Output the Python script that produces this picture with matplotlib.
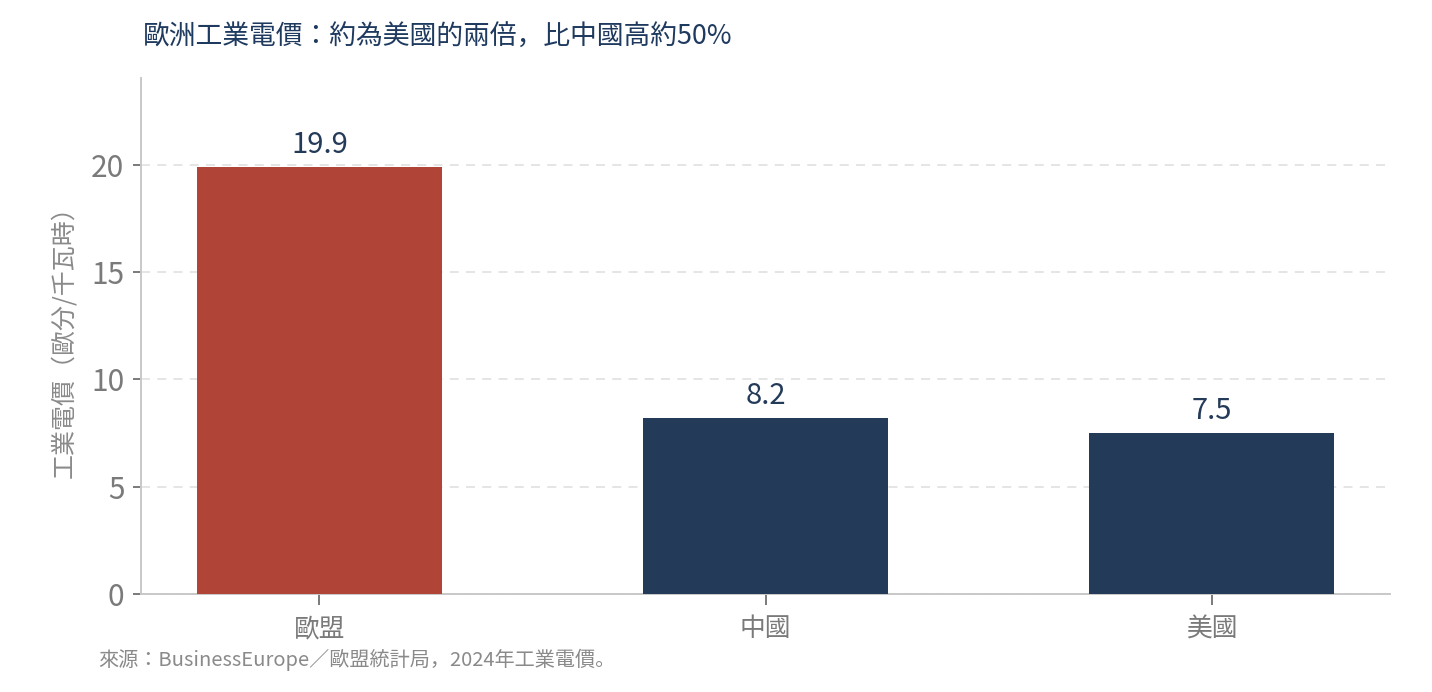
import matplotlib
matplotlib.use("Agg")
import matplotlib.pyplot as plt

plt.rcParams['font.family'] = ['Noto Sans CJK JP', 'DejaVu Sans']

# data
regions = ["歐盟", "中國", "美國"]
prices = [19.9, 8.2, 7.5]
bar_colors = ["#B04537", "#233A59", "#233A59"]
yticks = [0, 5, 10, 15, 20]

title = "歐洲工業電價：約為美國的兩倍，比中國高約50%"
ylabel = "工業電價（歐分/千瓦時）"
source = "來源：BusinessEurope／歐盟統計局，2024年工業電價。"

fig = plt.figure(figsize=(14.32, 6.92), dpi=100)
ax = fig.add_axes([0.0985, 0.1416, 0.8722, 0.7457])

x = list(range(len(regions)))
bars = ax.bar(x, prices, width=0.55, color=bar_colors, zorder=3)
ax.bar_label(bars, labels=[f"{v:.1f}" for v in prices], padding=5,
             fontsize=21, color="#233A59")

ax.set_xlim(-0.4, 2.4)
ax.set_ylim(0, 24.05)
ax.set_xticks(x)
ax.set_xticklabels(regions)
ax.set_yticks(yticks)

ax.grid(axis='y', linestyle=(0, (5, 4)), color="#e3e3e3", linewidth=1.3, zorder=0)
for s in ["top", "right"]:
    ax.spines[s].set_visible(False)
for s in ["left", "bottom"]:
    ax.spines[s].set_color("#c8c8c8")
    ax.spines[s].set_linewidth(1.4)

ax.tick_params(axis='y', labelsize=21.5, colors="#7a7a7a", length=6, width=1.4, pad=6)
ax.tick_params(axis='x', labelsize=18.5, colors="#7a7a7a", length=8, width=1.4, pad=8)
ax.set_ylabel(ylabel, fontsize=18, color="#8a8a8a", labelpad=10)

fig.text(0.0998, 0.946, title, fontsize=19.3, color="#1f3a5f", ha="left", va="center")
fig.text(0.0684, 0.046, source, fontsize=14.5, color="#8a8a8a", ha="left", va="center")

fig.savefig("out.png", dpi=100)
